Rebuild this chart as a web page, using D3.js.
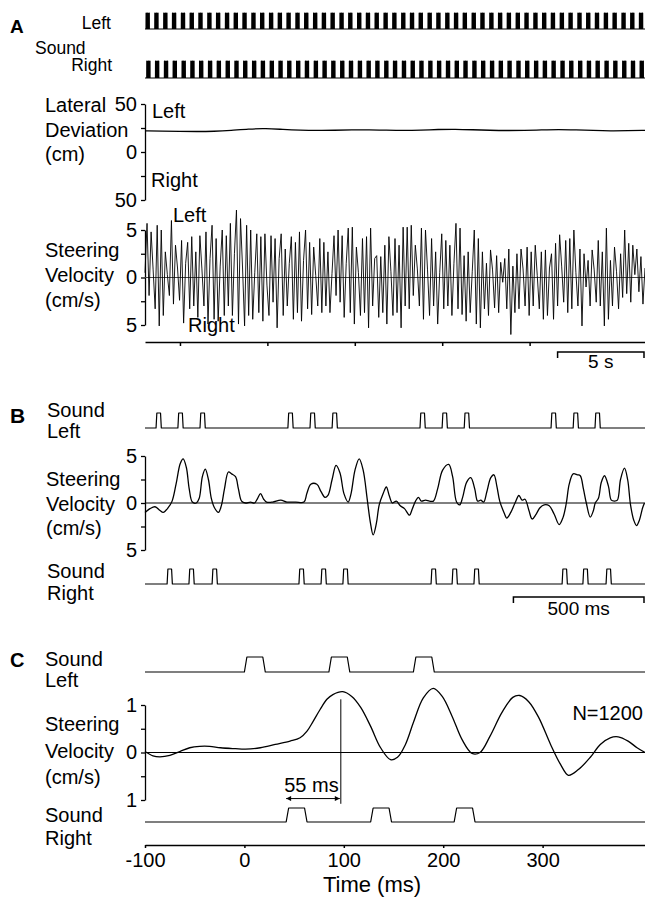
<!DOCTYPE html>
<html>
<head>
<meta charset="utf-8">
<script src="https://cdn.jsdelivr.net/npm/d3@7"></script>
<style>
  body { margin: 0; background: #fff; }
  svg { display: block; font-family: "Liberation Sans", Arial, Helvetica, sans-serif; }
  text { fill: #000; }
</style>
</head>
<body>
<script>
/*
 * Chart data.
 */

// pulse offsets inside one stimulus group (ms)
const PULSE_OFFSETS_MS = [0, 84, 168];

// Panel A: 28 s recording (time in s)
const A_TICKS_S = [5, 10, 15, 20, 25];
const A_LEFT_GROUPS_S = [
  3.06, 3.56, 4.07, 4.57, 5.08, 5.58, 6.08, 6.59, 7.09, 7.60,
  8.10, 8.60, 9.11, 9.61, 10.12, 10.62, 11.12, 11.63, 12.13, 12.64,
  13.14, 13.64, 14.15, 14.65, 15.16, 15.66, 16.16, 16.67, 17.17, 17.68,
  18.18, 18.68, 19.19, 19.69, 20.20, 20.70, 21.20, 21.71, 22.21, 22.72,
  23.22, 23.72, 24.23, 24.73, 25.24, 25.74, 26.24, 26.75, 27.25, 27.76,
  28.26, 28.76, 29.27, 29.77, 30.28, 30.78, 31.28
];
const A_RIGHT_GROUPS_S = [
  3.10, 3.60, 4.11, 4.61, 5.12, 5.62, 6.12, 6.63, 7.13, 7.64,
  8.14, 8.64, 9.15, 9.65, 10.16, 10.66, 11.16, 11.67, 12.17, 12.68,
  13.18, 13.68, 14.19, 14.69, 15.20, 15.70, 16.20, 16.71, 17.21, 17.72,
  18.22, 18.72, 19.23, 19.73, 20.24, 20.74, 21.24, 21.75, 22.25, 22.76,
  23.26, 23.76, 24.27, 24.77, 25.28, 25.78, 26.28, 26.79, 27.29, 27.80,
  28.30, 28.80, 29.31, 29.81, 30.32, 30.82, 31.32
];
// lateral deviation (cm), evenly sampled over the recording
const A_DEVIATION_CM = [
  22.0, 21.8, 21.5, 21.3, 21.5, 22.5, 24.0, 24.5, 23.5, 22.8,
  22.5, 22.6, 23.0, 23.2, 22.8, 22.5, 22.8, 23.5, 23.8, 23.2,
  22.6, 22.3, 22.5, 23.0, 23.5, 23.0, 22.4, 22.0, 22.2, 22.6
];
// steering velocity (cm/s), evenly sampled over the recording
const A_STEERING = [
  0.5, 5.7, -1.9, 4.8, 0.8, -3.3, 5.5, -5.1, 5.0, -4.0, 2.7, 0.3, -1.9, 6.0, -2.8, 3.4,
  1.0, -2.4, 3.9, -4.8, 1.5, 3.7, -3.3, 4.3, -3.0, 2.7, -4.2, 4.4, 0.9, -3.0, 4.8, -4.9,
  2.0, 5.5, -4.4, 4.1, -4.6, 1.2, 5.0, -4.0, 4.4, -3.0, 5.7, -4.0, 2.5, 7.1, -4.9, 6.2,
  1.0, -5.1, 5.5, -4.0, 5.0, -4.4, 0.5, 4.6, -3.7, 4.3, -4.6, 4.6, -0.8, -4.0, 4.4, -2.6,
  4.1, -5.3, 2.0, 4.6, -4.0, 3.0, -3.0, 1.5, 4.3, -4.4, 3.7, -3.7, 4.8, -4.6, 1.8, 5.0,
  -3.3, 3.7, -3.9, 3.2, 0.2, -3.0, 4.1, -3.7, 3.7, -3.0, 2.7, -3.7, 0.4, 4.4, -1.9, 5.0,
  -2.6, 4.4, -4.2, 1.5, 5.2, -3.7, 5.3, -4.9, 3.2, 0.5, -4.0, 4.1, -3.7, 4.3, -5.3, 5.2,
  -3.0, 2.0, 2.3, -4.2, 2.2, -3.7, 3.4, -4.9, 4.3, 0.6, -4.0, 4.1, -3.7, 3.4, -5.3, 5.3,
  -3.0,
  5.3, -3.3, 5.5, -1.9, 3.4, 0.9, -3.0, 5.2, -4.4, 5.0, 0.8, -4.0, 4.1, -3.0, 2.7, -4.9,
  0.5, 4.6, -3.3, 3.9, -3.0, 3.4, -4.0, 1.5, 5.7, -3.3, 5.2, -3.9, 2.3, -4.6, 2.7, -3.7,
  0.6, 5.0, -4.9, 4.1, -5.3, 2.7, -3.3, 1.5, -4.0, 2.9, 0.8, -3.2, 2.3, -3.7, 1.6, -0.5,
  2.0, -3.3, 3.0, -6.0, 1.2, -3.7, 2.5, -3.3, 3.0, 0.9, -3.0, 3.2, -4.0, 2.7, -3.0, 3.4,
  0.2, -3.3, 2.7, -4.4, 2.9, -4.0, 1.0, 2.5, -4.4, 3.6, -3.0, 4.5, 1.2, -2.6, 3.9, -3.7,
  4.1, -3.3, 5.0, 0.5, -3.0, 3.0, -5.1, 2.5, -1.0, 1.8, -3.0, 2.9, 0.8, -2.6, 3.9, -3.0,
  2.7, -5.1, 5.2, -4.4, 1.8, -3.0, 3.2, 0.6, -3.3, 2.5, -2.1, 5.0, -1.7, 3.6, -2.6, 3.4,
  0.3, 3.0, -1.5, 2.2, -2.8, 1.0
];

// Panel B: ~1.9 s excerpt (time in ms)
const B_LEFT_ONSETS_MS = [42, 125, 209, 543, 627, 711, 1045, 1129, 1213, 1543, 1627, 1710];
const B_RIGHT_ONSETS_MS = [84, 167, 255, 585, 669, 752, 1087, 1167, 1250, 1585, 1664, 1752];
const B_STEER_MS = [
  0, 19, 38, 57, 69, 88, 103, 118, 134, 145, 157, 168, 180, 195, 206, 218, 229, 241, 252, 264,
  279, 290, 302, 317, 329, 344, 355, 367, 382, 401, 416, 428, 439, 451, 462, 485, 516, 539, 573, 604,
  615, 630, 653, 669, 684, 695, 711, 726, 741, 756, 772, 783, 798, 814, 829, 844, 856, 867, 879, 890,
  905, 917, 928, 940, 955, 970, 986, 1005, 1016, 1028, 1039, 1050, 1066, 1081, 1096, 1112, 1131, 1154, 1169, 1184,
  1196, 1207, 1222, 1238, 1253, 1264, 1276, 1287, 1299, 1314, 1326, 1337, 1348, 1364, 1375, 1390, 1406, 1421, 1433, 1444,
  1459, 1471, 1486, 1501, 1517, 1536, 1555, 1574, 1589, 1601, 1612, 1627, 1643, 1654, 1666, 1677, 1692, 1704, 1711, 1723,
  1734, 1746, 1761, 1772, 1784, 1795, 1807, 1822, 1834, 1845, 1857, 1868, 1879, 1891, 1898
];
const B_STEER_V = [
  -1.0, -0.6, -0.4, -0.8, -1.0, -0.5, 0.2, 2.0, 4.2, 4.7, 3.8, 1.5, 0.1, 0.0, 0.5, 2.8, 3.6, 2.5, 0.5, -0.5,
  -1.0, -0.3, 1.5, 3.3, 3.1, 2.8, 1.5, 0.2, 0.0, 0.1, 0.0, 0.5, 1.0, 0.4, 0.1, 0.1, 0.3, 0.1, 0.1, 0.1,
  1.0, 2.0, 2.0, 1.2, 0.6, 0.8, 2.5, 4.0, 3.2, 1.0, 0.1, 1.0, 3.5, 4.7, 3.5, 0.5, -2.0, -3.4, -2.2, -0.2,
  1.0, 1.7, 0.8, 0.0, 0.2, -0.3, -0.6, -1.3, -0.6, 0.2, 0.6, 0.2, 0.3, 0.2, 0.2, 1.5, 3.5, 4.1, 2.8, 0.1,
  -0.2, 0.6, 2.2, 2.7, 1.5, 0.2, 0.3, 0.1, 1.2, 2.7, 3.0, 1.8, 0.2, -1.0, -1.6, -1.0, 0.0, 0.8, 0.3, 0.4,
  -0.8, -1.7, -1.2, -0.5, -0.2, -0.3, -1.2, -2.3, -1.5, 0.0, 2.0, 3.1, 3.0, 2.9, 1.5, 0.0, -1.5, -0.8, 0.0, 0.5,
  2.2, 2.9, 1.8, 0.3, 0.2, 0.3, 2.5, 3.7, 2.5, -0.2, -1.8, -2.4, -1.8, -0.5, 0.0
];

// Panel C: average response (time in ms)
const C_TICKS_MS = [-100, 0, 100, 200, 300];
const C_LEFT_ONSETS_MS = [0, 85, 170];
const C_RIGHT_ONSETS_MS = [42, 127, 211];
const C_STEER_MS = [
  -100, -92, -85, -75, -65, -55, -45, -35, -24, -9, 1, 16, 31, 46, 56, 63, 69, 76, 83, 89,
  99, 108, 117, 127, 137, 147, 154, 162, 170, 180, 190, 199, 209, 219, 229, 237, 247, 259, 270, 277,
  286, 296, 308, 318, 326, 336, 348, 358, 368, 376, 386, 395, 403
];
const C_STEER_V = [
  0.02, -0.07, -0.09, -0.06, 0.02, 0.1, 0.13, 0.13, 0.1, 0.08, 0.07, 0.1, 0.17, 0.24, 0.31, 0.45, 0.65, 0.9, 1.12, 1.22,
  1.28, 1.18, 0.95, 0.55, 0.1, -0.15, -0.1, 0.17, 0.63, 1.15, 1.35, 1.18, 0.76, 0.27, -0.02, 0.0, 0.34, 0.84, 1.16, 1.2,
  1.07, 0.74, 0.17, -0.25, -0.48, -0.36, -0.1, 0.17, 0.31, 0.33, 0.24, 0.1, 0.0
];
const C_PEAK_MS = 97;
const C_LATENCY_LABEL = '55 ms';

/*
 * Layout.
 */

const WIDTH = 645;
const HEIGHT = 904;
const X0 = 145;
const X1 = 645;
const FONT = 20;

const svg = d3.select('body')
  .append('svg')
    .attr('width', WIDTH)
    .attr('height', HEIGHT);

/*
 * Helpers.
 */

// square pulse train as [time, level] points
const pulseTrain = (onsets, t0, t1, dur, ramp) => {
  const pts = [[t0, 0]];
  onsets.forEach(t => {
    pts.push([t, 0], [t + ramp, 1], [t + dur - ramp, 1], [t + dur, 0]);
  });
  pts.push([t1, 0]);
  return pts;
};

const drawLine = (data, x, y, width, curve) => {
  svg.append('path')
      .datum(data)
      .attr('fill', 'none')
      .attr('stroke', '#000')
      .attr('stroke-width', width)
      .attr('stroke-linejoin', 'round')
      .attr('d', d3.line()
        .x(d => x(d[0]))
        .y(d => y(d[1]))
        .curve(curve || d3.curveLinear));
};

const drawSound = (onsets, x, base, top, dur, ramp) => {
  const y = d3.scaleLinear().domain([0, 1]).range([base, top]);
  const [t0, t1] = x.domain();
  drawLine(pulseTrain(onsets, t0, t1, dur, ramp), x, y, 1.2);
};

const addText = (str, x, y, opts = {}) => {
  svg.append('text')
      .attr('x', x)
      .attr('y', y)
      .attr('font-size', opts.size || FONT)
      .attr('font-weight', opts.weight || 'normal')
      .attr('text-anchor', opts.anchor || 'start')
      .text(str);
};

const addLeftAxis = (y, ticks, labelEvery) => {
  const axis = d3.axisLeft(y)
      .tickValues(ticks)
      .tickSize(4)
      .tickSizeOuter(0)
      .tickPadding(4)
      .tickFormat(d => (d % labelEvery === 0 ? Math.abs(d) : ''));
  const g = svg.append('g')
      .attr('transform', `translate(${X0}, 0)`)
      .call(axis);
  g.attr('font-size', FONT).attr('font-family', null);
  g.selectAll('path, line').attr('stroke-width', 1.3);
};

const addZeroLine = (y, color) => {
  svg.append('line')
      .attr('x1', X0)
      .attr('x2', X1)
      .attr('y1', y(0))
      .attr('y2', y(0))
      .attr('stroke', color)
      .attr('stroke-width', 1);
};

const addScaleBar = (x, len, yPos, label, labelY) => {
  const [, t1] = x.domain();
  const a = x(t1 - len);
  const b = x(t1) - 1;
  svg.append('path')
      .attr('fill', 'none')
      .attr('stroke', '#000')
      .attr('stroke-width', 1.5)
      .attr('d', `M${a},${yPos + 6}V${yPos}H${b}V${yPos + 6}`);
  addText(label, (a + b) / 2, labelY, { anchor: 'middle', size: 19 });
};

/*
 * Panel A.
 */

const plotPanelA = () => {
  const x = d3.scaleLinear().domain([3, 31.6]).range([X0, X1]);

  addText('A', 10, 33, { weight: 'bold', size: 19 });
  addText('Left', 111, 29, { anchor: 'end', size: 17.5 });
  addText('Sound', 35, 54, { size: 17.5 });
  addText('Right', 112, 71, { anchor: 'end', size: 17.5 });

  const toSec = groups => groups.flatMap(g => PULSE_OFFSETS_MS.map(o => g + o / 1000));
  drawSound(toSec(A_LEFT_GROUPS_S), x, 29, 13, 0.02, 0.003);
  drawSound(toSec(A_RIGHT_GROUPS_S), x, 78, 61, 0.02, 0.003);

  // lateral deviation
  const yDev = d3.scaleLinear().domain([-50, 50]).range([200, 104]);
  const devIdx = d3.scaleLinear().domain([0, A_DEVIATION_CM.length - 1]).range(x.domain());
  addLeftAxis(yDev, [50, 25, 0, -25, -50], 50);
  drawLine(A_DEVIATION_CM.map((v, i) => [devIdx(i), v]), x, yDev, 1.3, d3.curveBasis);
  addText('Lateral', 45, 112);
  addText('Deviation', 45, 137);
  addText('(cm)', 45, 161);
  addText('Left', 152, 118);
  addText('Right', 151, 187);

  // steering velocity
  const ySt = d3.scaleLinear().domain([-5, 5]).range([325, 230]);
  const stIdx = d3.scaleLinear().domain([0, A_STEERING.length - 1]).range(x.domain());
  addLeftAxis(ySt, [5, 2.5, 0, -2.5, -5], 5);
  addZeroLine(ySt, '#444');
  drawLine(A_STEERING.map((v, i) => [stIdx(i), v]), x, ySt, 0.9);
  addText('Steering', 45, 257);
  addText('Velocity', 45, 282);
  addText('(cm/s)', 45, 307);
  addText('Left', 173, 222);
  addText('Right', 188, 332);

  // time axis and scale bar
  const axis = d3.axisBottom(x)
      .tickValues(A_TICKS_S)
      .tickSize(4)
      .tickSizeOuter(0)
      .tickFormat('');
  svg.append('g')
      .attr('transform', 'translate(0, 342)')
      .call(axis)
    .selectAll('path, line')
      .attr('stroke-width', 1.5);
  addScaleBar(x, 5, 352, '5 s', 368);
};

/*
 * Panel B.
 */

const plotPanelB = () => {
  const x = d3.scaleLinear().domain([0, 1900]).range([X0, X1]);

  addText('B', 10, 423, { weight: 'bold', size: 21 });
  addText('Sound', 47, 417);
  addText('Left', 47, 438);
  drawSound(B_LEFT_ONSETS_MS, x, 428, 413, 20, 3);

  const y = d3.scaleLinear().domain([-5, 5]).range([550, 456]);
  addLeftAxis(y, [5, 2.5, 0, -2.5, -5], 5);
  addZeroLine(y, '#000');
  drawLine(B_STEER_MS.map((t, i) => [t, B_STEER_V[i]]), x, y, 1.3, d3.curveCatmullRom.alpha(0.5));
  addText('Steering', 46, 486);
  addText('Velocity', 46, 511);
  addText('(cm/s)', 46, 535);

  addText('Sound', 47, 578);
  addText('Right', 47, 600);
  drawSound(B_RIGHT_ONSETS_MS, x, 584, 569, 20, 3);

  addScaleBar(x, 500, 597, '500 ms', 615);
};

/*
 * Panel C.
 */

const plotPanelC = () => {
  const x = d3.scaleLinear().domain([-100, 403]).range([X0, X1]);

  svg.append('defs')
    .append('marker')
      .attr('id', 'arrow')
      .attr('viewBox', '0 0 10 10')
      .attr('refX', 10)
      .attr('refY', 5)
      .attr('markerWidth', 8)
      .attr('markerHeight', 5)
      .attr('markerUnits', 'userSpaceOnUse')
      .attr('orient', 'auto-start-reverse')
    .append('path')
      .attr('d', 'M0,0L10,5L0,10z')
      .attr('fill', '#000');

  addText('C', 10, 667, { weight: 'bold', size: 20 });
  addText('Sound', 45, 666);
  addText('Left', 45, 687);
  drawSound(C_LEFT_ONSETS_MS, x, 672, 657, 21, 2.5);

  const y = d3.scaleLinear().domain([-1, 1]).range([800, 705]);
  addLeftAxis(y, [1, 0.5, 0, -0.5, -1], 1);
  addZeroLine(y, '#000');
  drawLine(C_STEER_MS.map((t, i) => [t, C_STEER_V[i]]), x, y, 1.3, d3.curveCatmullRom.alpha(0.5));
  addText('Steering', 45, 731);
  addText('Velocity', 45, 758);
  addText('(cm/s)', 45, 784);
  addText('N=1200', 643, 720, { anchor: 'end' });

  // latency marker
  svg.append('line')
      .attr('x1', x(C_PEAK_MS))
      .attr('x2', x(C_PEAK_MS))
      .attr('y1', y(1.12))
      .attr('y2', y(-1.08))
      .attr('stroke', '#000')
      .attr('stroke-width', 1);
  svg.append('line')
      .attr('x1', x(C_RIGHT_ONSETS_MS[0]))
      .attr('x2', x(C_PEAK_MS) - 1)
      .attr('y1', y(-0.97))
      .attr('y2', y(-0.97))
      .attr('stroke', '#000')
      .attr('stroke-width', 1)
      .attr('marker-start', 'url(#arrow)')
      .attr('marker-end', 'url(#arrow)');
  addText(C_LATENCY_LABEL, (x(C_RIGHT_ONSETS_MS[0]) + x(C_PEAK_MS)) / 2 - 2, 792, { anchor: 'middle' });

  addText('Sound', 45, 822);
  addText('Right', 45, 845);
  drawSound(C_RIGHT_ONSETS_MS, x, 822, 808, 21, 2.5);

  // time axis (plain hyphen for negative labels, as in the figure)
  const axis = d3.axisBottom(x)
      .tickValues(C_TICKS_MS)
      .tickSize(3)
      .tickSizeOuter(0)
      .tickPadding(5)
      .tickFormat(d => `${d}`);
  const g = svg.append('g')
      .attr('transform', 'translate(0, 845)')
      .call(axis);
  g.attr('font-size', FONT).attr('font-family', null);
  g.selectAll('path, line').attr('stroke-width', 1.5);

  addText('Time (ms)', 372, 892, { anchor: 'middle', size: 22 });
};

plotPanelA();
plotPanelB();
plotPanelC();
</script>
</body>
</html>
